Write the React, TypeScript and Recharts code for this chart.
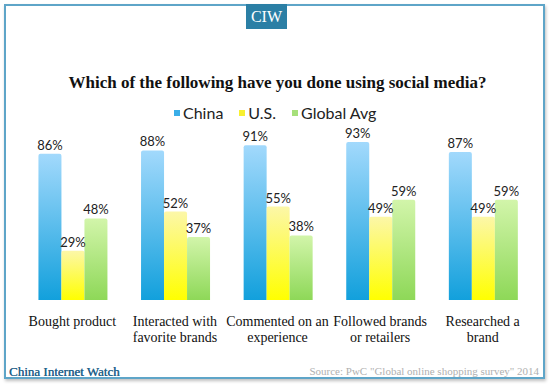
// Grouped bar chart: social media activities, China vs U.S. vs global average.

import { BarChart, Bar, XAxis, YAxis, LabelList } from 'recharts';

const categories = [
  'Bought product',
  'Interacted with favorite brands',
  'Commented on an experience',
  'Followed brands or retailers',
  'Researched a brand',
];
const categoryLines = [
  ['Bought product'],
  ['Interacted with', 'favorite brands'],
  ['Commented on an', 'experience'],
  ['Followed brands', 'or retailers'],
  ['Researched a', 'brand'],
];
const china = [86, 88, 91, 93, 87];
const us = [29, 52, 55, 49, 49];
const globalAvg = [48, 37, 38, 59, 59];
const edgeTicks = [0, 1, 2, 3, 4, 5];

const series = [
  { key: 'China', name: 'China', top: '#a2d9fc', bottom: '#12a0dc', legend: '#3aaee8' },
  { key: 'US', name: 'U.S.', top: '#fcf7a8', bottom: '#ffff00', legend: '#f8f030' },
  { key: 'Global', name: 'Global Avg', top: '#d2f5aa', bottom: '#8ed858', legend: '#a6e07a' },
];

const data = categories.map((c, i) => ({
  name: c,
  idx: i,
  China: china[i],
  US: us[i],
  Global: globalAvg[i],
}));

const SERIF = '"Liberation Serif", "DejaVu Serif", serif';
const SANS = 'Lato, "Open Sans", sans-serif';

function CategoryTick({ x, y, payload }: any) {
  const lines = categoryLines[payload.index] ?? [payload.value];
  return (
    <text x={x} y={y + 18} textAnchor="middle" fontFamily={SERIF} fontSize={14} fill="#111">
      {lines.map((l: string, i: number) => (
        <tspan key={i} x={x} dy={i === 0 ? 0 : 16}>
          {l}
        </tspan>
      ))}
    </text>
  );
}

export default function App() {
  return (
    <div
      style={{
        position: 'absolute',
        left: 0,
        top: 0,
        width: 550,
        height: 385,
        background: '#fff',
        overflow: 'hidden',
      }}
    >
      <div
        style={{
          position: 'absolute',
          left: 4,
          top: 4,
          width: 537,
          height: 371,
          border: '2.5px solid #5ea5c8',
          boxShadow: '1px 2px 3px rgba(0,0,0,0.25)',
        }}
      />
      <div
        style={{
          position: 'absolute',
          left: 246,
          top: 4,
          width: 41,
          height: 25,
          background: '#2b7fa5',
          color: '#fff',
          fontFamily: SERIF,
          fontSize: 16,
          lineHeight: '25px',
          textAlign: 'center',
        }}
      >
        CIW
      </div>
      <div
        style={{
          position: 'absolute',
          left: 0,
          top: 73,
          width: 555,
          textAlign: 'center',
          fontFamily: SERIF,
          fontWeight: 'bold',
          fontSize: 17,
          color: '#111',
        }}
      >
        Which of the following have you done using social media?
      </div>
      <div
        style={{
          position: 'absolute',
          left: 174,
          top: 103,
          display: 'flex',
          alignItems: 'center',
          fontFamily: SANS,
          fontSize: 16,
          color: '#222',
        }}
      >
        {series.map((s) => (
          <div key={s.key} style={{ display: 'flex', alignItems: 'center', marginRight: 16 }}>
            <span style={{ width: 6, height: 6, background: s.legend, marginRight: 3 }} />
            <span>{s.name}</span>
          </div>
        ))}
      </div>

      <div style={{ position: 'absolute', left: 0, top: 0 }}>
        <BarChart
          width={550}
          height={385}
          data={data}
          margin={{ top: 130, right: 16, bottom: 34, left: 21 }}
          barCategoryGap="17%"
          barGap={0}
        >
          <defs>
            {series.map((s) => (
              <linearGradient key={s.key} id={`grad-${s.key}`} x1="0" y1="0" x2="0" y2="1">
                <stop offset="0%" stopColor={s.top} />
                <stop offset="100%" stopColor={s.bottom} />
              </linearGradient>
            ))}
          </defs>
          <XAxis
            xAxisId="edge"
            type="number"
            dataKey="idx"
            domain={[0, 5]}
            ticks={edgeTicks}
            tick={false}
            tickSize={7}
            height={0}
            stroke="#9a9a9a"
            allowDataOverflow
          />
          <XAxis
            xAxisId="cat"
            dataKey="name"
            axisLine={false}
            tickLine={false}
            interval={0}
            height={51}
            tick={<CategoryTick />}
          />
          <YAxis hide domain={[0, 100]} />
          {series.map((s) => (
            <Bar
              key={s.key}
              xAxisId="cat"
              dataKey={s.key}
              name={s.name}
              fill={`url(#grad-${s.key})`}
              radius={[2, 2, 0, 0]}
              isAnimationActive={false}
            >
              <LabelList
                dataKey={s.key}
                position="top"
                offset={4}
                formatter={(v: any) => `${v}%`}
                style={{ fontFamily: SANS, fontSize: 13, fill: '#222' }}
              />
            </Bar>
          ))}
        </BarChart>
      </div>

      <div
        style={{
          position: 'absolute',
          left: 9,
          top: 364,
          fontFamily: SERIF,
          fontSize: 13,
          color: '#24628a',
          textShadow: '0.3px 0 0 #24628a',
        }}
      >
        China Internet Watch
      </div>
      <div
        style={{
          position: 'absolute',
          right: 11,
          top: 365,
          fontFamily: SERIF,
          fontSize: 11,
          color: '#b0b0b0',
        }}
      >
        Source: PwC "Global online shopping survey" 2014
      </div>
    </div>
  );
}
